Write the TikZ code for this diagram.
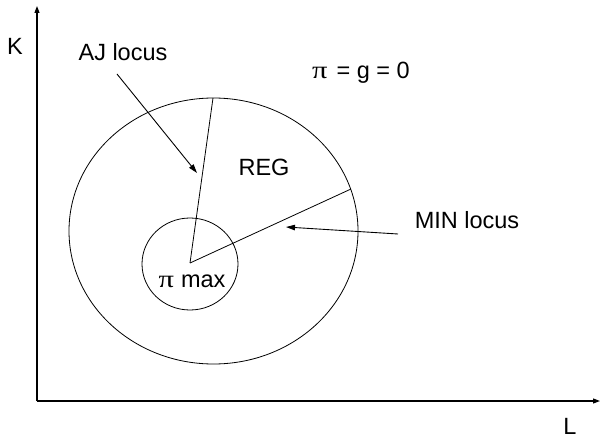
\documentclass[tikz,border=0pt]{standalone}
\usepackage{fontspec}
\setmainfont{Liberation Sans}
\newfontfamily\symfont{Liberation Serif}
\usepackage{tikz}
\usetikzlibrary{arrows.meta,positioning,calc}
\tikzset{
  axisline/.style={-{Triangle[length=7pt,width=5pt]}, line width=1.1pt},
  curveline/.style={line width=0.8pt},
  pointer/.style={-{Triangle[length=9pt,width=5.5pt]}, line width=0.9pt},
  lbl/.style={inner sep=0pt, font=\fontsize{23.5}{27}\selectfont},
}
\newcommand{\piup}{\scalebox{1.3}[1.05]{\symfont π}}

\begin{document}
\begin{tikzpicture}[x=1pt,y=-1pt]
\useasboundingbox (0,0) rectangle (601,438);
% axes
\coordinate (origin) at (37,401);
\coordinate (ktip) at (37,6);
\coordinate (ltip) at (600,401);
\draw[axisline] (origin) -- (ktip);
\draw[axisline] (origin) -- (ltip);
\node[lbl] (klab) at (15,46) {K};
\node[lbl] (llab) at (570,426) {L};
% regions
\coordinate (ctr) at (190,263);
\draw[curveline] (213.5,231) ellipse [x radius=144.5, y radius=133];
\draw[curveline] (190,264) ellipse [x radius=48, y radius=46];
\coordinate (ajend) at (213,98);
\coordinate (minend) at (351,189);
\draw[curveline] (ctr) -- (ajend);
\draw[curveline] (ctr) -- (minend);
% labels
\node[lbl] (aj) at (123,52) {AJ locus};
\node[lbl] (minloc) at (467,220) {MIN locus};
\node[lbl] (reg) at (264,167) {REG};
\node[lbl] (zero) at (361,73) {\piup\hspace{9pt}= g = 0};
\node[lbl] (pimax) at (192,281) {\piup\hspace{7pt}max};
\coordinate (ajstart) at (117,74);
\coordinate (ajtip) at (197,173);
\coordinate (minstart) at (398,234);
\coordinate (mintip) at (286,227);
\draw[pointer] (ajstart) -- (ajtip);
\draw[pointer] (minstart) -- (mintip);
\end{tikzpicture}
\end{document}
